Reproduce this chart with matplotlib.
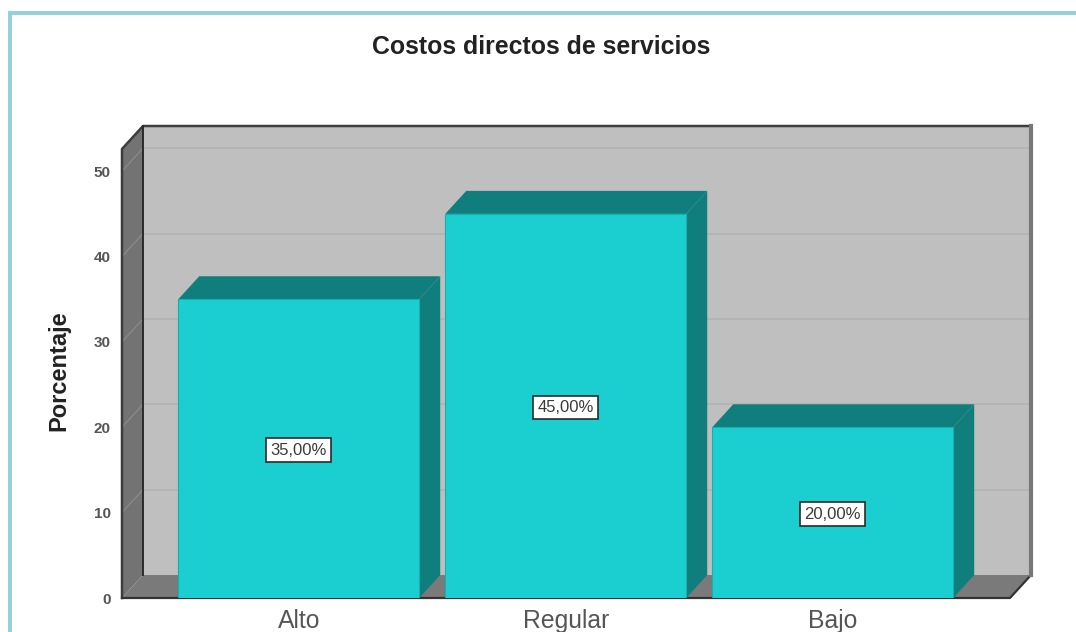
import matplotlib
matplotlib.use('Agg')
import matplotlib.pyplot as plt
from matplotlib.patches import Polygon, Rectangle
from matplotlib.transforms import ScaledTranslation

categorias = ['Alto', 'Regular', 'Bajo']
porcentajes = [35, 45, 20]
etiquetas = ['35,00%', '45,00%', '20,00%']
marcas_y = [0, 10, 20, 30, 40, 50]

plt.rcParams['font.family'] = ['Liberation Sans', 'DejaVu Sans']

W, H = 1076, 632
fig = plt.figure(figsize=(W / 100, H / 100), dpi=100, facecolor='white')
# plano frontal del grafico: x 122-1010, y 149-598 px
ax = fig.add_axes([122 / W, 1 - 598 / H, 888 / W, 449 / H])

x_min, x_max = -0.662, 2.664
y_max = 52.6
ancho = 0.9026
prof_x = 21 / 267  # profundidad del efecto 3D
prof_y = 23 / 8.54

ax.set_xlim(x_min, x_max)
ax.set_ylim(0, y_max)

GRIS_FONDO = '#bfbfbf'
GRIS_PARED = '#737373'
GRIS_SUELO = '#7a7a7a'
TURQUESA = '#1bcfd1'
TURQUESA_OSC = '#117e7e'


def poligono(puntos, color, z, borde='none', lw=0):
    ax.add_patch(Polygon(puntos, closed=True, facecolor=color, edgecolor=borde,
                         linewidth=lw, zorder=z, clip_on=False))


# pared del fondo
poligono([(x_min + prof_x, prof_y), (x_max + prof_x, prof_y),
          (x_max + prof_x, y_max + prof_y), (x_min + prof_x, y_max + prof_y)], GRIS_FONDO, 1)
# pared izquierda
poligono([(x_min, 0), (x_min + prof_x, prof_y), (x_min + prof_x, y_max + prof_y),
          (x_min, y_max)], GRIS_PARED, 1)
# suelo
poligono([(x_min, 0), (x_max, 0), (x_max + prof_x, prof_y), (x_min + prof_x, prof_y)], GRIS_SUELO, 1)

# lineas de la cuadricula
for v in marcas_y[1:]:
    ax.plot([x_min + prof_x, x_max + prof_x], [v + prof_y, v + prof_y], color='#b2b2b2', lw=1.2,
            zorder=2, clip_on=False)
    ax.plot([x_min, x_min + prof_x], [v, v + prof_y], color='#8a8a8a', lw=0.9, zorder=2, clip_on=False)

# bordes oscuros
ax.plot([x_min, x_min, x_min + prof_x, x_max + prof_x], [0, y_max, y_max + prof_y, y_max + prof_y],
        color='#3d3d3d', lw=1.8, zorder=3, clip_on=False)
ax.plot([x_min + prof_x, x_min + prof_x], [prof_y, y_max + prof_y], color='#2b2b2b', lw=1.4,
        zorder=3, clip_on=False)
ax.plot([x_min, x_max, x_max + prof_x], [0, 0, prof_y], color='#333333', lw=1.6, zorder=3, clip_on=False)
ax.plot([x_max + prof_x, x_max + prof_x], [prof_y, y_max + prof_y], color='#777777', lw=3,
        zorder=3, clip_on=False)

# barras
posiciones = list(range(len(categorias)))
for p, v in zip(posiciones, porcentajes):
    izq, der = p - ancho / 2, p + ancho / 2
    poligono([(der, 0), (der + prof_x, prof_y), (der + prof_x, v + prof_y), (der, v)], TURQUESA_OSC, 4)
    poligono([(izq, v), (der, v), (der + prof_x, v + prof_y), (izq + prof_x, v + prof_y)], TURQUESA_OSC, 4)
ax.bar(posiciones, porcentajes, width=ancho, color=TURQUESA, edgecolor='#17b0b2', linewidth=0.8, zorder=5)

for p, v, txt in zip(posiciones, porcentajes, etiquetas):
    ax.annotate(txt, (p, v / 2), xytext=(0, -1), textcoords='offset points', ha='center', va='center',
                fontsize=12, color='#3a3a3a', zorder=6,
                bbox=dict(boxstyle='square,pad=0.25', facecolor='white', edgecolor='#2a2a2a', linewidth=1.2))

for lado in ax.spines.values():
    lado.set_visible(False)
ax.patch.set_visible(False)
ax.set_xticks(posiciones)
ax.set_xticklabels(categorias, fontsize=17.8, color='#555555')
ax.set_yticks(marcas_y)
ax.set_yticklabels([str(v) for v in marcas_y], fontsize=11, color='#555555', fontweight='bold')
# las etiquetas del eje y quedan un poco por debajo de su linea
bajar = ScaledTranslation(0, -2 / 100, fig.dpi_scale_trans)
for t in ax.get_yticklabels():
    t.set_transform(t.get_transform() + bajar)
ax.tick_params(axis='both', length=0)
ax.tick_params(axis='x', pad=8)
ax.tick_params(axis='y', pad=8)

fig.text(541.5 / W, 1 - 47 / H, 'Costos directos de servicios', ha='center', va='center',
         fontsize=17.9, fontweight='bold', color='#222222')
fig.text(59 / W, 1 - 371 / H, 'Porcentaje', rotation=90, ha='center', va='center',
         fontsize=17, fontweight='bold', color='#222222')

# marco azul claro
AZUL = '#95d0de'
fig.add_artist(Rectangle((8 / W, 0), 4 / W, 1 - 11 / H, transform=fig.transFigure, facecolor=AZUL, edgecolor='none'))
fig.add_artist(Rectangle((8 / W, 1 - 15 / H), 1 - 8 / W, 4 / H, transform=fig.transFigure, facecolor=AZUL, edgecolor='none'))

fig.savefig('out.png', dpi=100)
